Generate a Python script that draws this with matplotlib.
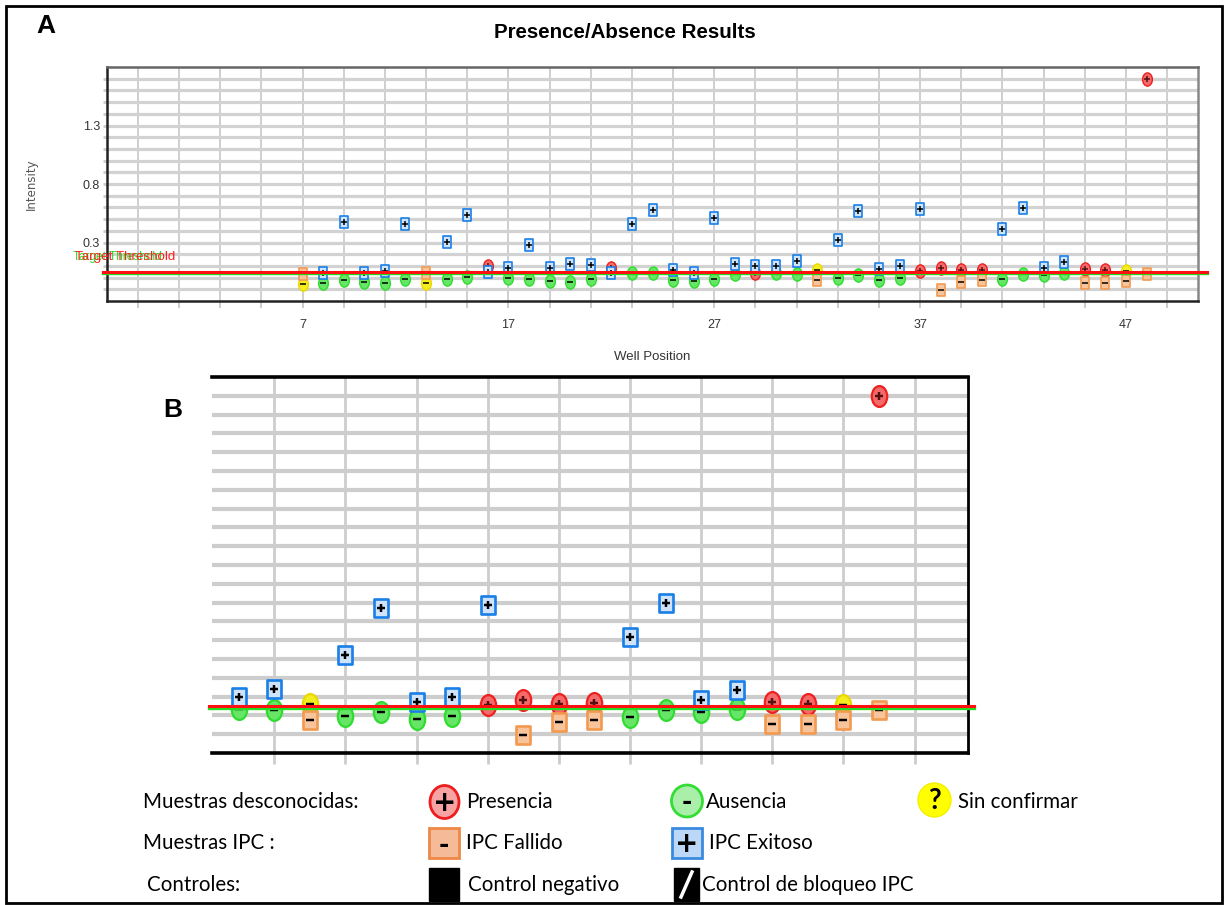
import matplotlib
matplotlib.use('Agg')
import matplotlib.pyplot as plt
import numpy as np
from matplotlib.path import Path
from matplotlib.patches import Rectangle, Ellipse

W, H = 1226, 905

# data
wells = list(range(7, 49))
sample_call = ['U', 'A', 'A', 'A', 'A', 'A', 'U', 'A', 'A', 'P',
               'A', 'A', 'A', 'A', 'A', 'P', 'A', 'A', 'A', 'A',
               'A', 'A', 'P', 'A', 'A', 'U', 'A', 'A', 'A', 'A',
               'P', 'P', 'P', 'P', 'A', 'A', 'A', 'A', 'P', 'P',
               'U', 'P']
sample_val = [-0.051, -0.043, -0.023, -0.034, -0.043, -0.015, -0.043, -0.015, 0.009, 0.100,
              0.000, -0.015, -0.029, -0.034, -0.009, 0.080, 0.037, 0.037, -0.023, -0.029,
              -0.015, 0.028, 0.037, 0.036, 0.027, 0.062, -0.005, 0.018, -0.018, -0.005,
              0.053, 0.083, 0.062, 0.065, -0.009, 0.027, 0.018, 0.036, 0.071, 0.062,
              0.053, 1.697]
ipc_call = ['F', 'E', 'E', 'E', 'E', 'E', 'F', 'E', 'E', 'E',
            'E', 'E', 'E', 'E', 'E', 'E', 'E', 'E', 'E', 'E',
            'E', 'E', 'E', 'E', 'E', 'F', 'E', 'E', 'E', 'E',
            'E', 'F', 'F', 'F', 'E', 'E', 'E', 'E', 'F', 'F',
            'F', 'F']
ipc_val = [0.028, 0.037, 0.471, 0.043, 0.057, 0.457, 0.043, 0.305, 0.534, 0.051,
           0.086, 0.279, 0.080, 0.114, 0.105, 0.037, 0.457, 0.580, 0.063, 0.037,
           0.508, 0.114, 0.100, 0.097, 0.138, -0.023, 0.319, 0.571, 0.071, 0.097,
           0.585, -0.103, -0.035, -0.023, 0.416, 0.597, 0.080, 0.137, -0.044, -0.044,
           -0.027, 0.027]
threshold_red = 0.050
threshold_green = 0.038
x_label_wells = [7, 17, 27, 37, 47]
y_label_vals = [0.3, 0.8, 1.3]

# marker shapes
circ = Path.unit_circle()
ellipse = Path(circ.vertices * [0.74, 1.0], circ.codes)
rect = Path([(-0.36, -0.5), (0.36, -0.5), (0.36, 0.5), (-0.36, 0.5), (-0.36, -0.5)],
            [Path.MOVETO, Path.LINETO, Path.LINETO, Path.LINETO, Path.CLOSEPOLY])

sample_style = {'P': ('#f46a6a', '#ee2020', '+', '#551010'),
                'A': ('#66e566', '#2fdc2f', '_', 'black'),
                'U': ('#f4ee20', '#ead800', '_', 'black')}
ipc_style = {'E': ('#cfe3fa', '#1a7fe6', '+', 'black'),
             'F': ('#f8c49c', '#f29a50', '_', 'black')}

narrow = ['Liberation Sans Narrow', 'Liberation Sans', 'DejaVu Sans']


def box(x0, y0, x1, y1):
    return [x0 / W, 1 - y1 / H, (x1 - x0) / W, (y1 - y0) / H]


def draw_points(ax, cs, ss, ew):
    w = np.array(wells)
    sc = np.array(sample_call)
    sv = np.array(sample_val)
    ic = np.array(ipc_call)
    iv = np.array(ipc_val)
    for k, (fc, ec, g, gc) in sample_style.items():
        m = sc == k
        ax.plot(w[m], sv[m], ls='none', marker=ellipse, ms=cs, mfc=fc, mec=ec, mew=ew, zorder=3)
        ax.plot(w[m], sv[m], ls='none', marker=g, ms=cs * 0.42, color=gc, mew=ew * 1.1, zorder=4)
    for k, (fc, ec, g, gc) in ipc_style.items():
        m = ic == k
        ax.plot(w[m], iv[m], ls='none', marker=rect, ms=ss, mfc=fc, mec=ec, mew=ew * 1.2, zorder=5)
        ax.plot(w[m], iv[m], ls='none', marker=g, ms=ss * 0.45, color=gc, mew=ew * 1.1, zorder=6)
    tr = ax.get_yaxis_transform()
    ax.plot([-0.004, 1.008], [threshold_green] * 2, color='#22dd22', lw=2.4, transform=tr,
            clip_on=False, zorder=7)
    ax.plot([-0.004, 1.008], [threshold_red] * 2, color='#ff1010', lw=2.2, transform=tr,
            clip_on=False, zorder=8)


fig = plt.figure(figsize=(W / 100, H / 100), dpi=100)

# ---- panel A
axA = fig.add_axes(box(107, 67, 1198, 301))
axA.set_xlim(-2.5, 50.5)
axA.set_ylim(-0.2, 1.8)
yt = np.round(np.arange(-0.1, 1.71, 0.1), 1)
axA.set_yticks(yt)
axA.set_yticklabels([str(v) if v in y_label_vals else '' for v in yt])
xt = np.arange(-1, 50, 2)
axA.set_xticks(xt)
axA.set_xticklabels([str(v) if v in x_label_wells else '' for v in xt])
axA.grid(axis='y', color='#d2d2d2', lw=2.3)
axA.grid(axis='x', color='#cfcfcf', lw=1.4)
axA.set_axisbelow(True)
axA.tick_params(axis='y', length=3, width=2, color='#cccccc', pad=2, labelsize=9,
                labelcolor='#333333')
axA.tick_params(axis='x', length=5, width=1.4, color='#cccccc', pad=8, labelsize=9,
                labelcolor='#333333')
for lab in axA.get_xticklabels() + axA.get_yticklabels():
    lab.set_family(narrow)
axA.spines['left'].set_color('#222222')
axA.spines['bottom'].set_color('#222222')
axA.spines['top'].set_color('#666666')
axA.spines['right'].set_color('#888888')
for s in axA.spines.values():
    s.set_linewidth(1.8)
draw_points(axA, 9.5, 8.6, 1.0)
axA.set_ylabel('Intensity', fontsize=8.5, color='#555555', labelpad=32)
axA.set_xlabel('Well Position', fontsize=9.5, color='#333333', family=narrow, labelpad=14)

# ---- panel B
axB = fig.add_axes(box(212, 377, 968, 753))
axB.set_xlim(29.25, 50.5)
axB.set_ylim(-0.2, 1.8)
axB.set_yticks(yt)
axB.set_xticks(np.arange(31, 50, 2))
axB.set_xticklabels([])
axB.set_yticklabels([])
axB.grid(axis='y', color='#cdcdcd', lw=3)
axB.grid(axis='x', color='#cdcdcd', lw=2)
axB.set_axisbelow(True)
axB.tick_params(axis='y', length=0)
axB.tick_params(axis='x', length=8, width=2, color='#cdcdcd')
axB.spines['left'].set_visible(False)
axB.spines['top'].set_linewidth(2.6)
axB.spines['bottom'].set_linewidth(2.6)
axB.spines['right'].set_linewidth(2.0)
draw_points(axB, 15, 13.5, 1.6)

# ---- overlay: title, letters, legend, frame
ov = fig.add_axes([0, 0, 1, 1], zorder=10)
ov.set_xlim(0, W)
ov.set_ylim(H, 0)
ov.axis('off')
ov.patch.set_alpha(0)

ov.add_patch(Rectangle((6, 6), 1216, 897, fill=False, lw=2, ec='black'))
ov.text(625, 33, 'Presence/Absence Results', ha='center', va='center', fontsize=14.8,
        fontweight='bold', family=narrow)
ov.text(46, 26, 'A', ha='center', va='center', fontsize=19, fontweight='bold', family='Liberation Sans')
ov.text(173, 410, 'B', ha='center', va='center', fontsize=19, fontweight='bold', family='Liberation Sans')
ov.text(73, 257, 'Target Threshold', ha='left', va='center', fontsize=8.6, color='#22dd22', family=narrow)
ov.text(75, 257, 'Target Threshold', ha='left', va='center', fontsize=9.6, color='#ff2020', family=narrow)

leg_font = 'Lato'
lf = 14.8
ov.text(143, 802, 'Muestras desconocidas:', va='center', fontsize=lf, family=leg_font)
ov.text(143, 843, 'Muestras IPC :', va='center', fontsize=lf, family=leg_font)
ov.text(147, 885, 'Controles:', va='center', fontsize=lf, family=leg_font)

ov.add_patch(Ellipse((444.5, 802), 29, 33, fc='#f7a3a3', ec='#ee1c1c', lw=2))
ov.text(444.5, 803, '+', ha='center', va='center', fontsize=20, fontweight='bold')
ov.text(466, 802, 'Presencia', va='center', fontsize=lf, family=leg_font)

ov.add_patch(Ellipse((687, 801), 31, 32, fc='#a9eea9', ec='#33dd33', lw=2))
ov.text(687, 802, '-', ha='center', va='center', fontsize=18, fontweight='bold')
ov.text(706, 802, 'Ausencia', va='center', fontsize=lf, family=leg_font)

ov.add_patch(Ellipse((934.5, 800), 33, 34, fc='#ffff00', ec='#f4f000', lw=1))
ov.text(934.5, 801, '?', ha='center', va='center', fontsize=20, fontweight='bold', family=leg_font)
ov.text(958, 802, 'Sin confirmar', va='center', fontsize=lf, family=leg_font)

ov.add_patch(Rectangle((429, 828), 30, 30, fc='#f5bb98', ec='#ee8844', lw=2))
ov.text(444, 845, '-', ha='center', va='center', fontsize=18, fontweight='bold')
ov.text(466, 843, 'IPC Fallido', va='center', fontsize=lf, family=leg_font)

ov.add_patch(Rectangle((672, 828), 30, 30, fc='#bcd8f6', ec='#3a8ae0', lw=2))
ov.text(687, 844, '+', ha='center', va='center', fontsize=20, fontweight='bold')
ov.text(709, 843, 'IPC Exitoso', va='center', fontsize=lf, family=leg_font)

ov.add_patch(Rectangle((429, 868), 30, 33, fc='black', ec='black', lw=1))
ov.text(468, 885, 'Control negativo', va='center', fontsize=lf, family=leg_font)
ov.add_patch(Rectangle((674, 868), 25, 33, fc='black', ec='black', lw=1))
ov.plot([681, 692], [897, 872], color='white', lw=2.5)
ov.text(702, 885, 'Control de bloqueo IPC', va='center', fontsize=lf, family=leg_font)

fig.savefig('out.png', dpi=100)
